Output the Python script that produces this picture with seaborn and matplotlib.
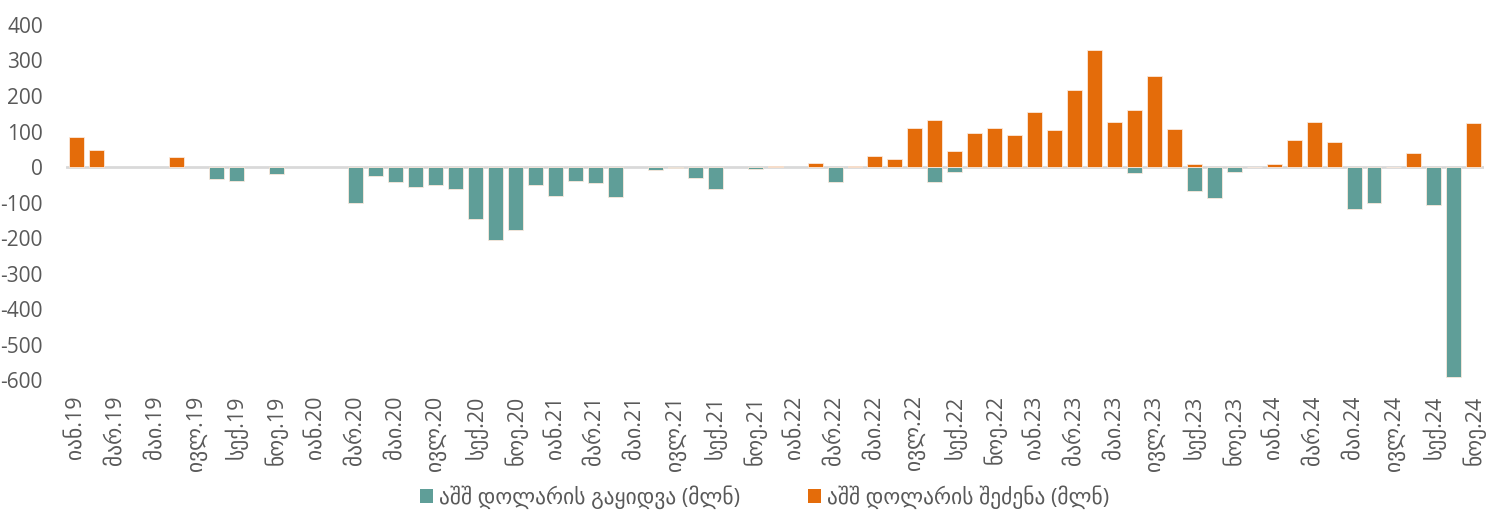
import matplotlib
matplotlib.use("Agg")
import matplotlib.pyplot as plt
import seaborn as sns
import pandas as pd
from matplotlib.patches import Patch

# Monthly FX interventions, Jan 2019 – Nov 2024 (USD million)
month_abbr = ["იან", "თებ", "მარ", "აპრ", "მაი", "ივნ",
              "ივლ", "აგვ", "სექ", "ოქტ", "ნოე", "დეკ"]
years = ["19", "20", "21", "22", "23", "24"]
n_months = 71

sales = [0, 0, 0, 0, 0, 0, 0, -33, -40, 0, -20, 0,
         0, 0, -100, -25, -41, -56, -50, -61, -146, -206, -176, -50,
         -81, -40, -45, -84, 0, -9, -4, -31, -61, 0, -5, 0,
         0, 0, -41, 0, 0, 0, 0, -42, -15, 0, 0, 0,
         0, 0, 0, 0, 0, -18, 0, 0, -68, -87, -15, 0,
         0, 0, 0, 0, -118, -102, 0, 0, -107, -590, 0]
purchases = [85, 48, 0, 0, 0, 29, 0, 0, 0, 0, 0, 0,
             0, 0, 0, 0, 0, 0, 0, 0, 0, 0, 0, 0,
             0, 0, 0, 0, 0, 0, 0, 0, 0, 0, 0, 2,
             0, 10, 0, 3, 31, 22, 110, 132, 44, 97, 110, 91,
             154, 104, 217, 329, 127, 160, 255, 107, 8, 0, 0, 1,
             8, 76, 127, 71, 0, 0, 1, 40, 0, 0, 123]

series_names = ["აშშ დოლარის გაყიდვა (მლნ)", "აშშ დოლარის შეძენა (მლნ)"]
colors = ["#5F9E98", "#E46C0A"]

months = [f"{month_abbr[i % 12]}.{years[i // 12]}" for i in range(n_months)]

df = pd.DataFrame({
    "month": months * 2,
    "value": sales + purchases,
    "series": [series_names[0]] * n_months + [series_names[1]] * n_months,
})
df = df[df["value"] != 0]

sns.set_theme(style="white")
plt.rcParams["font.family"] = ["Open Sans", "DejaVu Sans"]
plt.rcParams["axes.unicode_minus"] = False
text_color = "#595959"

fig = plt.figure(figsize=(15.11, 5.2), dpi=100)
ax = fig.add_axes([0.044, 0.269, 0.938, 0.683])

sns.barplot(data=df, x="month", y="value", hue="series", order=months,
            hue_order=series_names, palette=colors, dodge=False,
            saturation=1, width=0.75, edgecolor="#FBE9DC", linewidth=0.6,
            ax=ax, legend=False)

ax.axhline(0, color="#D9D9D9", linewidth=2, zorder=0.5)
ax.set_xlim(-0.5, n_months - 0.5)
ax.set_ylim(-600, 400)
ax.set_yticks(range(-600, 401, 100))
ax.set_xticks(range(0, n_months, 2))
ax.set_xticklabels(months[::2], rotation=90)
ax.set_xlabel("")
ax.set_ylabel("")
for s in ax.spines.values():
    s.set_visible(False)
ax.tick_params(axis="y", length=0, pad=17, labelsize=15, labelcolor=text_color)
ax.tick_params(axis="x", length=0, pad=11, labelsize=15.5, labelcolor=text_color)

handles = [Patch(facecolor=c, edgecolor="none") for c in colors]
fig.legend(handles, series_names, loc="center", bbox_to_anchor=(0.506, 0.044),
           ncol=2, frameon=False, fontsize=15.5, labelcolor=text_color,
           handlelength=0.6, handleheight=0.6, handletextpad=0.25,
           columnspacing=3.2)

fig.savefig("out.png", dpi=100)
